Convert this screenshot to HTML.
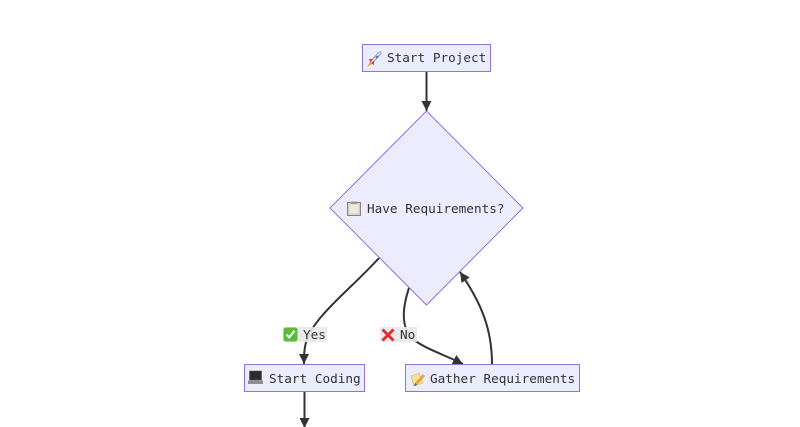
<!DOCTYPE html>
<html><head><meta charset="utf-8"><style>
html,body{margin:0;padding:0;background:#fff;width:800px;height:427px;overflow:hidden}
svg{display:block}
text{font-family:"DejaVu Sans Mono","Liberation Mono",monospace;font-size:12.7px;fill:#333}
</style></head><body>
<svg width="800" height="427" viewBox="0 0 800 427" xmlns="http://www.w3.org/2000/svg">
<defs>
<marker id="ah" viewBox="0 0 10 10" refX="10" refY="5" markerUnits="userSpaceOnUse" markerWidth="10" markerHeight="10" orient="auto">
<path d="M0,0 L10,5 L0,10 z" fill="#333"/>
</marker>
</defs>
<!-- edges -->
<g fill="none" stroke="#333" stroke-width="2">
<path d="M426.5,71 L426.5,111" marker-end="url(#ah)"/>
<path d="M379,258 C350,290 314,316 306,342 C304,350 304,356 304,364" marker-end="url(#ah)"/>
<path d="M409,288 C401,312 402,330 414,340 C428,350 445,355 463,364" marker-end="url(#ah)"/>
<path d="M492,364 C492,330 482,304 460,272" marker-end="url(#ah)"/>
<path d="M304.5,392 L304.5,428" marker-end="url(#ah)"/>
</g>
<!-- nodes -->
<rect x="362.5" y="44.5" width="128" height="27" fill="#ECECFF" stroke="#9370DB" stroke-width="1"/>
<polygon points="426.5,111 523,208 426.5,305 330,208" fill="#ECECFF" stroke="#9370DB" stroke-width="1"/>
<rect x="244.5" y="364.5" width="120" height="27" fill="#ECECFF" stroke="#9370DB" stroke-width="1"/>
<rect x="405.5" y="364.5" width="174" height="27" fill="#ECECFF" stroke="#9370DB" stroke-width="1"/>
<!-- edge labels -->
<rect x="283" y="327" width="44" height="15" fill="#e8e8e8" opacity="0.9"/>
<rect x="380" y="327" width="37" height="15" fill="#e8e8e8" opacity="0.9"/>

<!-- icons -->
<!-- rocket -->
<g transform="translate(366,50)">
<path d="M4,12 L12,3 Q14,1 15,2 Q16,3 14,5 L6,14 Z" fill="#cfd3da" stroke="#8a8f99" stroke-width="0.6"/>
<path d="M3,9 L7,9 L4,12 Z" fill="#d43b3b"/>
<path d="M8,15 L8,11 L5,13 Z" fill="#d43b3b"/>
<path d="M4,12 L6,14 L1,17 Z" fill="#f5a623"/>
<circle cx="11" cy="7" r="1.3" fill="#3b7dd8"/>
</g>
<!-- clipboard -->
<g transform="translate(347,201)">
<rect x="0.5" y="1.5" width="13" height="13" fill="#d8cfc0" stroke="#8d8478" stroke-width="1"/>
<rect x="2.5" y="3.5" width="9" height="9" fill="#ece8e2"/>
<rect x="4" y="0.5" width="6" height="2.5" fill="#9a9a9a"/>
</g>
<!-- check -->
<g transform="translate(283,327)">
<rect x="0.5" y="0.5" width="14" height="14" rx="2.5" fill="#5cb93a"/>
<path d="M3.5,7.5 L6.2,10.5 L11.5,3.8" fill="none" stroke="#fff" stroke-width="2"/>
</g>
<!-- cross -->
<g transform="translate(381,328)">
<path d="M1.5,1.5 L12.5,12.5 M12.5,1.5 L1.5,12.5" stroke="#dd2e2e" stroke-width="3"/>
</g>
<!-- laptop -->
<g transform="translate(248,370)">
<rect x="1.5" y="1" width="12" height="9" fill="#2b2b2b" stroke="#555" stroke-width="0.6"/>
<rect x="0" y="10.5" width="15" height="3.5" fill="#8d8d8d"/>
</g>
<!-- memo -->
<g transform="translate(410,371)">
<path d="M1,5 L9,2 L13,12 L4,15 Z" fill="#f3e39a" stroke="#c9b36a" stroke-width="0.6"/>
<path d="M5,12 L13,3 L15,5 L7,14 Z" fill="#e8a33c"/>
<path d="M5,12 L7,14 L4,15 Z" fill="#555"/>
</g>

<!-- text -->
<text x="387" y="62">Start Project</text>
<text x="367" y="213">Have Requirements?</text>
<text x="303" y="339">Yes</text>
<text x="400" y="339">No</text>
<text x="269" y="383">Start Coding</text>
<text x="430" y="383">Gather Requirements</text>
</svg>
</body></html>
